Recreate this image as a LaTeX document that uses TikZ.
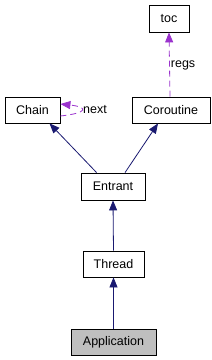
\documentclass[tikz,border=0pt]{standalone}
\usepackage{fontspec}
\setmainfont{Liberation Sans}
\usetikzlibrary{arrows.meta}
\definecolor{navy}{HTML}{191970}
\definecolor{orchid}{HTML}{9A32CD}
\definecolor{grayfill}{HTML}{BFBFBF}
\begin{document}
\begin{tikzpicture}[x=1pt,y=-1pt,
  cls/.style={draw=black,line width=0.8pt,inner sep=0pt,font=\fontsize{12.5}{14}\selectfont,anchor=center},
  inh/.style={draw=navy,line width=0.8pt,-{Triangle[length=10pt,width=8pt,fill=navy]}},
  use/.style={draw=orchid,line width=0.8pt,dash pattern=on 6pt off 4pt,-{Triangle[length=10pt,width=8pt,fill=orchid]}},
  lbl/.style={font=\fontsize{12.5}{14}\selectfont,inner sep=0pt}]
\useasboundingbox (0,0) rectangle (212,360);
\node[cls,minimum width=40pt,minimum height=27pt] (toc) at (169,18.5) {toc};
\node[cls,minimum width=55pt,minimum height=26pt] (chain) at (32.5,110) {Chain};
\node[cls,minimum width=78pt,minimum height=26pt] (coro) at (171,110) {Coroutine};
\node[cls,minimum width=64pt,minimum height=27pt] (entrant) at (113,186.5) {Entrant};
\node[cls,minimum width=61pt,minimum height=26pt] (thread) at (113.5,264) {Thread};
\node[cls,fill=grayfill,minimum width=85pt,minimum height=26pt] (app) at (113.5,342) {Application};
\draw[inh] ([xshift=16pt]entrant.north west) -- ([xshift=17pt]chain.south);
\draw[inh] ([xshift=12pt]entrant.north) -- ([xshift=-13pt]coro.south);
\draw[inh] (thread.north) -- (entrant.south);
\draw[inh] (app.north) -- (thread.south);
\draw[use] ([xshift=-1pt]coro.north) -- ([xshift=0pt]toc.south) node[lbl,pos=0.49,right=1pt] {regs};
\draw[use] ([yshift=-6pt]chain.east) .. controls +(28,-3) and +(28,3) .. ([yshift=6pt]chain.east);
\node[lbl,anchor=west] (nextlbl) at (83,110) {next};
\end{tikzpicture}
\end{document}
